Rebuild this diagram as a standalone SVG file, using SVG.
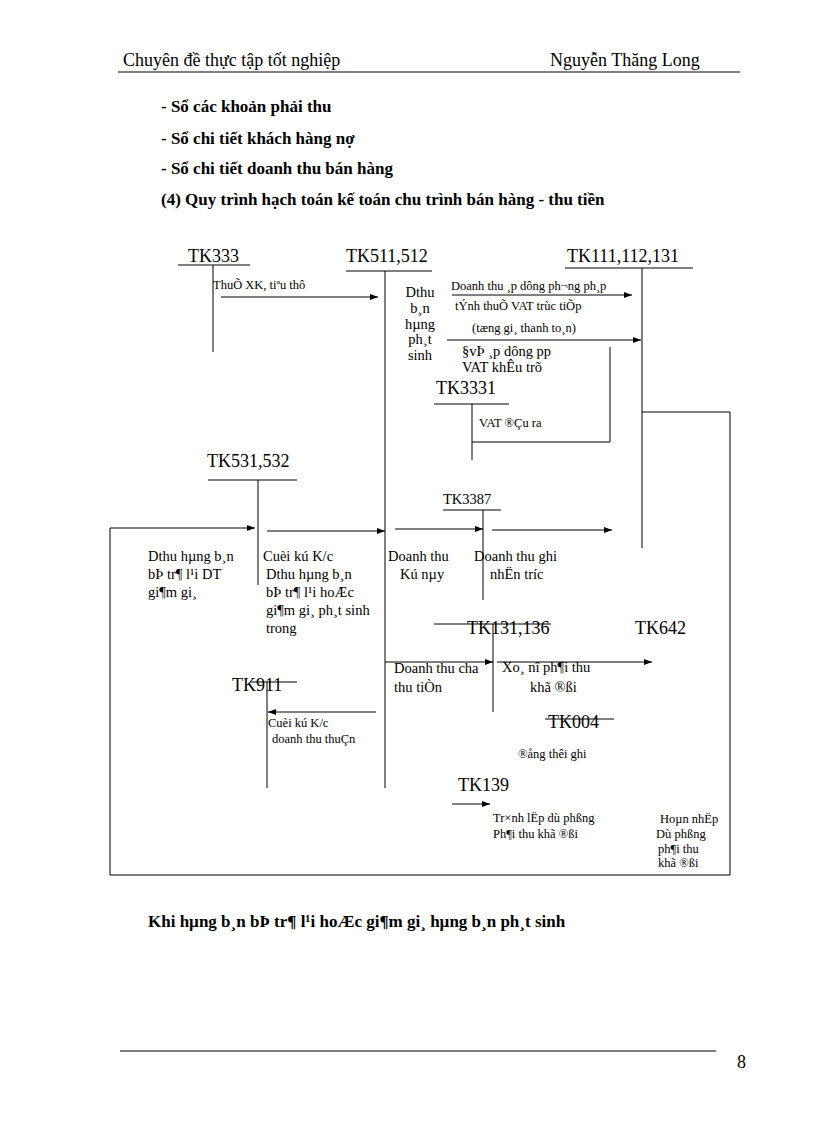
<svg xmlns="http://www.w3.org/2000/svg" width="816" height="1123" viewBox="0 0 816 1123">
<defs><marker id="a" markerWidth="8" markerHeight="6" refX="8" refY="3" orient="auto" markerUnits="userSpaceOnUse"><path d="M0,0L8,3L0,6z" fill="#000"/></marker></defs>
<style>
text{font-family:"Liberation Serif",serif;fill:#000}
.h{font-size:18px}.b{font-size:17px;font-weight:bold}.t{font-size:18px}.s{font-size:12.5px}.m{font-size:14.5px}
line,polyline{stroke:#000;stroke-width:1;fill:none}
.ar{marker-end:url(#a)}
</style>
<rect width="816" height="1123" fill="#fff"/>
<text class="h" x="123" y="66">Chuyên  đề thực tập tốt nghiệp</text>
<text class="h" x="550" y="66">Nguyễn  Thăng Long</text>
<line x1="118" y1="72" x2="740" y2="72"/>
<text class="b" x="161" y="112">- Sổ các khoản phải thu</text>
<text class="b" x="161" y="144">- Sổ chi tiết khách hàng nợ</text>
<text class="b" x="161" y="174">- Sổ chi tiết doanh thu bán hàng</text>
<text class="b" x="161" y="205">(4) Quy trình hạch toán kế toán chu trình bán hàng  - thu tiền</text>
<g id="TK333"><text class="t" x="188" y="262">TK333</text><line x1="178" y1="265" x2="250" y2="265"/><line x1="213" y1="265" x2="213" y2="352"/></g>
<g id="TK511"><text class="t" x="346" y="262">TK511,512</text><line x1="346" y1="271" x2="432" y2="271"/><line x1="385" y1="271" x2="385" y2="788"/></g>
<g id="TK111"><text class="t" x="567" y="262">TK111,112,131</text><line x1="565" y1="268" x2="693" y2="268"/><line x1="642" y1="268" x2="642" y2="548"/></g>
<g id="TK3331"><text class="t" x="436" y="394">TK3331</text><line x1="434" y1="404" x2="509" y2="404"/><line x1="472" y1="404" x2="472" y2="460"/></g>
<g id="TK531"><text class="t" x="207" y="467">TK531,532</text><line x1="208" y1="480" x2="297" y2="480"/><line x1="258" y1="480" x2="258" y2="585"/></g>
<g id="TK3387"><text class="m" x="443" y="504">TK3387</text><line x1="443" y1="510" x2="501" y2="510"/><line x1="483" y1="510" x2="483" y2="600"/></g>
<g id="TK131"><text class="t" x="467" y="634">TK131,136</text><line x1="434" y1="624" x2="551" y2="624"/><line x1="493" y1="624" x2="493" y2="712"/></g>
<g id="TK642"><text class="t" x="635" y="634">TK642</text></g>
<g id="TK911"><text class="t" x="232" y="691">TK911</text><line x1="250" y1="682" x2="297" y2="682"/><line x1="267" y1="682" x2="267" y2="788"/></g>
<g id="TK004"><text class="t" x="548" y="728">TK004</text><line x1="545" y1="719" x2="614" y2="719"/></g>
<g id="TK139"><text class="t" x="458" y="791">TK139</text></g>
<g id="connectors">
<line class="ar" x1="221" y1="297" x2="378" y2="297"/>
<line class="ar" x1="452" y1="295" x2="632" y2="295"/>
<line class="ar" x1="447" y1="340" x2="641" y2="340"/>
<polyline points="610,347 610,442 472,442"/>
<polyline class="ar" points="642,412 730,412 730,875 110,875 110,528 255,528"/>
<line class="ar" x1="267" y1="531" x2="385" y2="531"/>
<line class="ar" x1="395" y1="529" x2="483" y2="529"/>
<line class="ar" x1="492" y1="530" x2="612" y2="530"/>
<line class="ar" x1="385" y1="662" x2="493" y2="662"/>
<line class="ar" x1="497" y1="662" x2="652" y2="662"/>
<line class="ar" x1="376" y1="712" x2="268" y2="712"/>
<line class="ar" x1="452" y1="804" x2="490" y2="804"/>
</g>
<g id="labels">
<text class="s" x="213" y="289">ThuÕ XK, tiªu thô</text>
<g class="m" text-anchor="middle"><text x="420" y="297">Dthu</text><text x="420" y="313">b¸n</text><text x="420" y="329">hµng</text><text x="420" y="344">ph¸t</text><text x="420" y="360">sinh</text></g>
<text class="s" x="451" y="290">Doanh thu ¸p dông ph­¬ng  ph¸p</text>
<text class="s" x="455" y="310">tÝnh thuÕ  VAT trùc tiÕp</text>
<text class="s" x="472" y="332">(tæng gi¸ thanh to¸n)</text>
<text class="m" x="462" y="356">§vÞ ¸p dông pp</text>
<text class="m" x="462" y="372">VAT khÊu trõ</text>
<text class="s" x="479" y="427">VAT ®Çu ra</text>
<text class="m" x="148" y="561">Dthu hµng b¸n</text><text class="m" x="148" y="579">bÞ tr¶ l¹i DT</text><text class="m" x="148" y="597">gi¶m gi¸</text>
<text class="m" x="263" y="561">Cuèi kú K/c</text><text class="m" x="266" y="579">Dthu hµng b¸n</text><text class="m" x="266" y="597">bÞ tr¶ l¹i hoÆc</text><text class="m" x="266" y="615">gi¶m gi¸ ph¸t sinh</text><text class="m" x="266" y="633">trong</text>
<text class="m" x="388" y="561">Doanh thu</text><text class="m" x="400" y="579">Kú nµy</text>
<text class="m" x="474" y="561">Doanh thu ghi</text><text class="m" x="490" y="579">nhËn tr­íc</text>
<text class="m" x="394" y="673">Doanh thu cha</text><text class="m" x="394" y="692">thu tiÒn</text>
<text class="m" x="502" y="672">Xo¸ nî ph¶i thu</text><text class="m" x="530" y="692">khã ®ßi</text>
<text class="s" x="268" y="727">Cuèi kú K/c</text><text class="s" x="272" y="743">doanh thu thuÇn</text>
<text class="s" x="518" y="758">®ång thêi ghi</text>
<text class="s" x="493" y="822">Tr×nh lËp dù phßng</text><text class="s" x="493" y="838">Ph¶i thu khã ®ßi</text>
<text class="s" x="660" y="823">Hoµn nhËp</text><text class="s" x="656" y="838">Dù phßng</text><text class="s" x="658" y="853">ph¶i thu</text><text class="s" x="658" y="867">khã ®ßi</text>
</g>
<text class="b" x="148" y="927">Khi hµng b¸n bÞ tr¶ l¹i hoÆc gi¶m gi¸ hµng b¸n ph¸t sinh</text>
<line x1="120" y1="1051" x2="716" y2="1051"/>
<text class="h" x="737" y="1068">8</text>
</svg>
